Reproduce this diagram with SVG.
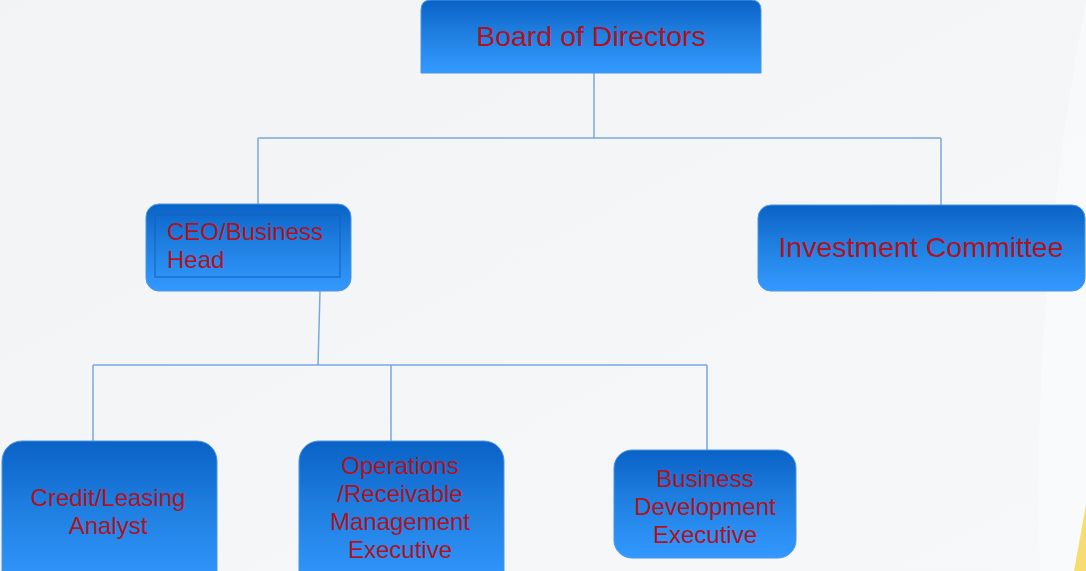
<svg xmlns="http://www.w3.org/2000/svg" width="1086" height="571" viewBox="0 0 1086 571">
<defs>
<linearGradient id="bg" x1="0" y1="0" x2="1" y2="1">
<stop offset="0" stop-color="#f2f3f5"/>
<stop offset="1" stop-color="#f7f8fa"/>
</linearGradient>
<linearGradient id="box" x1="0" y1="0" x2="0" y2="1">
<stop offset="0" stop-color="#0a62c6"/>
<stop offset="0.45" stop-color="#1f7fe0"/>
<stop offset="1" stop-color="#3399ff"/>
</linearGradient>
</defs>
<style>
.node{fill:url(#box);stroke:#4a95e6;stroke-width:1}
.t{font-family:"Liberation Sans",Arial,sans-serif;fill:#b0121f}
.c{text-anchor:middle;font-size:24px}
.big{font-size:28.5px;text-anchor:middle}
.conn{stroke:#7aa8e0;stroke-width:1.5;fill:none}
</style>
<rect width="1086" height="571" fill="url(#bg)"/>
<path d="M1086 0 L1086 571 L1040 571 Q1030 300 1086 0 Z" fill="#f9fafb" opacity="0.8"/>
<path d="M1086 505 L1086 571 L1074 571 Z" fill="#f7dc6f"/>
<g id="connectors">
<path class="conn" d="M594 73 V138 M258 138 H941 M258 138 V205 M941 138 V206"/>
<path class="conn" d="M320 291 L318 365 M93 365 H707 M93 365 V442 M391 365 V442 M707 365 V451"/>
</g>
<g id="board">
<path class="node" d="M421 73 V10 Q421 0 431 0 H751 Q761 0 761 10 V73 Z"/>
<text class="t big" x="591" y="46">Board of Directors</text>
</g>
<g id="ceo">
<rect class="node" x="146" y="204" width="205" height="87" rx="13"/>
<rect x="155" y="215" width="185" height="62" fill="none" stroke="#1560b8" stroke-width="1"/>
<text class="t" font-size="24" x="167" y="240">CEO/Business</text>
<text class="t" font-size="24" x="167" y="268">Head</text>
</g>
<g id="investment">
<rect class="node" x="758" y="205" width="327" height="86" rx="13"/>
<text class="t big" x="921" y="257">Investment Committee</text>
</g>
<g id="credit">
<rect class="node" x="2" y="441" width="215" height="150" rx="20"/>
<text class="t c" x="108" y="506">Credit/Leasing</text>
<text class="t c" x="108" y="534">Analyst</text>
</g>
<g id="operations">
<rect class="node" x="299" y="441" width="205" height="150" rx="20"/>
<text class="t c" x="400" y="474">Operations</text>
<text class="t c" x="400" y="502">/Receivable</text>
<text class="t c" x="400" y="530">Management</text>
<text class="t c" x="400" y="558">Executive</text>
</g>
<g id="bizdev">
<rect class="node" x="614" y="450" width="182" height="108" rx="18"/>
<text class="t c" x="705" y="487">Business</text>
<text class="t c" x="705" y="515">Development</text>
<text class="t c" x="705" y="543">Executive</text>
</g>
</svg>
